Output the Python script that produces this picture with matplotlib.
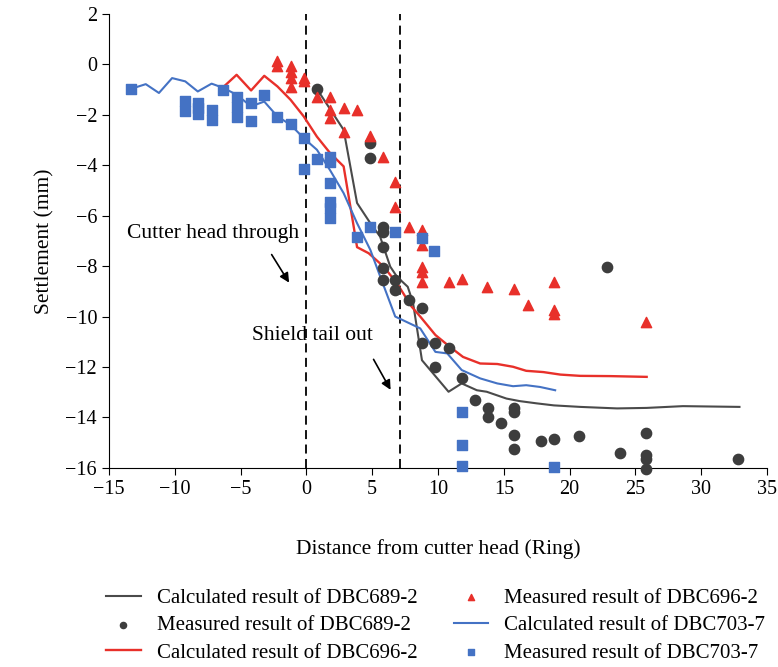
import matplotlib
matplotlib.use("Agg")
import matplotlib.pyplot as plt

plt.rcParams['font.family'] = ['Liberation Serif', 'DejaVu Serif']

# Calculated DBC689-2 (black line)
calc689_x = [0.8, 2.83, 3.85, 4.86, 5.6, 6.37, 6.88, 7.7, 8.1, 8.78, 10.8, 11.8, 12.95, 13.7, 15.2, 16.2, 17.5, 18.8, 20.8, 23.6, 25.85, 28.6, 32.9]
calc689_y = [-0.98, -2.6, -5.5, -6.3, -6.83, -8.02, -8.42, -8.82, -9.45, -11.73, -12.98, -12.65, -12.92, -12.98, -13.25, -13.35, -13.44, -13.52, -13.58, -13.64, -13.62, -13.55, -13.58]

# Measured DBC689-2 (black circles)
meas689_x = [0.8, 4.8, 4.8, 5.8, 5.8, 5.8, 5.8, 5.8, 6.75, 6.75, 7.76, 8.78, 8.78, 9.8, 9.8, 10.8, 11.8, 12.8, 13.8, 13.8, 14.8, 15.8, 15.8, 15.8, 15.8, 17.8, 18.8, 20.7, 22.8, 23.8, 25.8, 25.8, 25.8, 25.8, 32.8]
meas689_y = [-0.98, -3.13, -3.72, -6.44, -6.63, -7.23, -8.09, -8.55, -8.55, -8.95, -9.35, -9.68, -11.06, -11.06, -11.99, -11.26, -12.45, -13.29, -13.62, -13.98, -14.21, -13.64, -13.8, -14.7, -15.23, -14.93, -14.86, -14.74, -8.02, -15.39, -14.6, -15.47, -15.63, -16.06, -15.65]

# Calculated DBC696-2 (red line)
calc696_x = [-6.3, -5.3, -4.2, -3.2, -2.2, -1.2, -0.2, 0.8, 1.8, 2.83, 3.47, 3.85, 4.73, 5.87, 6.88, 8.0, 8.65, 9.8, 10.9, 11.9, 13.2, 14.5, 15.7, 16.7, 18.0, 19.3, 20.8, 23.1, 25.85]
calc696_y = [-0.9, -0.42, -1.04, -0.46, -0.88, -1.41, -2.07, -2.87, -3.52, -4.05, -6.04, -7.25, -7.49, -8.02, -8.68, -9.61, -10.0, -10.73, -11.2, -11.6, -11.86, -11.88, -11.99, -12.15, -12.2, -12.3, -12.35, -12.36, -12.39]

# Measured DBC696-2 (red triangles)
meas696_x = [-2.2, -2.2, -1.2, -1.2, -1.2, -1.2, -0.2, -0.2, 0.8, 1.8, 1.8, 1.8, 2.83, 2.83, 3.85, 4.8, 5.82, 6.75, 6.75, 7.76, 8.78, 8.78, 8.78, 8.78, 8.78, 10.8, 11.8, 13.75, 15.8, 16.8, 18.8, 18.8, 18.8, 25.8]
meas696_y = [0.11, -0.09, -0.09, -0.3, -0.55, -0.9, -0.55, -0.68, -1.28, -1.28, -1.8, -2.13, -1.74, -2.67, -1.8, -2.86, -3.66, -4.65, -5.64, -6.44, -6.57, -7.16, -8.05, -8.22, -8.62, -8.62, -8.52, -8.84, -8.92, -9.54, -8.62, -9.74, -9.9, -10.2]

# Calculated DBC703-7 (blue line)
calc703_x = [-13.35, -12.2, -11.2, -10.2, -9.2, -8.25, -7.2, -6.3, -5.3, -4.2, -3.2, -2.2, -1.2, -0.2, 0.8, 1.8, 2.83, 3.85, 4.86, 5.6, 6.75, 8.65, 9.8, 10.7, 11.8, 13.2, 14.5, 15.7, 16.7, 17.75, 18.9]
calc703_y = [-0.98, -0.79, -1.14, -0.55, -0.68, -1.08, -0.77, -0.94, -1.21, -1.67, -1.48, -2.07, -2.4, -2.93, -3.39, -4.2, -5.11, -6.3, -7.36, -8.4, -10.0, -10.47, -11.4, -11.46, -12.12, -12.45, -12.65, -12.76, -12.72, -12.79, -12.92]

# Measured DBC703-7 (blue squares)
meas703_x = [-13.3, -9.2, -9.2, -8.25, -8.25, -8.25, -7.2, -7.2, -6.3, -5.3, -5.3, -5.3, -4.2, -4.2, -3.2, -2.2, -1.2, -0.2, -0.2, 0.8, 1.8, 1.8, 1.8, 1.8, 1.8, 1.8, 3.85, 4.8, 6.75, 8.78, 9.73, 11.8, 11.8, 11.8, 18.8]
meas703_y = [-0.98, -1.45, -1.85, -1.52, -1.74, -1.98, -1.8, -2.23, -1.01, -1.28, -1.7, -2.1, -1.52, -2.27, -1.21, -2.1, -2.36, -2.93, -4.16, -3.76, -3.66, -3.86, -4.7, -5.47, -5.68, -6.1, -6.83, -6.44, -6.66, -6.88, -7.4, -13.78, -15.1, -15.92, -15.96]

xticks = [-15, -10, -5, 0, 5, 10, 15, 20, 25, 30, 35]
yticks = [2, 0, -2, -4, -6, -8, -10, -12, -14, -16]
vlines_x = [0, 7.1]

c_black = '#3d3d3d'
c_red = '#e8302a'
c_blue = '#4472c4'

fig = plt.figure(figsize=(7.78, 6.67), dpi=100)
ax = fig.add_axes([0.140, 0.2984, 0.846, 0.681])

l1, = ax.plot(calc689_x, calc689_y, color='#4a4a4a', lw=1.5, label='Calculated result of DBC689-2')
l3, = ax.plot(calc696_x, calc696_y, color=c_red, lw=1.7, label='Calculated result of DBC696-2')
l5, = ax.plot(calc703_x, calc703_y, color=c_blue, lw=1.5, label='Calculated result of DBC703-7')
s2 = ax.scatter(meas689_x, meas689_y, s=55, color=c_black, marker='o', zorder=3, clip_on=False, label='Measured result of DBC689-2')
s4 = ax.scatter(meas696_x, meas696_y, s=55, color=c_red, marker='^', zorder=3, clip_on=False, label='Measured result of DBC696-2')
s6 = ax.scatter(meas703_x, meas703_y, s=45, color=c_blue, marker='s', zorder=3, clip_on=False, label='Measured result of DBC703-7')

for vx in vlines_x:
    ax.axvline(vx, color='black', ls=(0, (5, 3)), lw=1.3, zorder=1)

ax.annotate('', xy=(-1.2, -8.75), xytext=(-2.75, -7.45),
            arrowprops=dict(arrowstyle='-|>', color='black', lw=1.2, mutation_scale=14))
ax.text(-13.6, -6.69, 'Cutter head through', fontsize=15.5, va='center', ha='left')
ax.annotate('', xy=(6.5, -13.0), xytext=(5.0, -11.6),
            arrowprops=dict(arrowstyle='-|>', color='black', lw=1.2, mutation_scale=14))
ax.text(-4.1, -10.77, 'Shield tail out', fontsize=15.5, va='center', ha='left')

ax.set_xlim(-15, 35)
ax.set_ylim(-16, 2)
ax.set_xticks(xticks)
ax.set_yticks(yticks)
ax.tick_params(direction='out', length=5, labelsize=14.5)
for sp in ['top', 'right']:
    ax.spines[sp].set_visible(False)
ax.set_xlabel('Distance from cutter head (Ring)', fontsize=15.5, labelpad=29)
ax.set_ylabel('Settlement (mm)', fontsize=15.5, labelpad=8)

handles = [l1, s2, l3, s4, l5, s6]
leg = fig.legend(handles=handles, labels=[h.get_label() for h in handles],
                 loc='upper left', bbox_to_anchor=(0.1255, 0.1304), ncol=2,
                 frameon=False, fontsize=15.0, handlelength=1.67, handletextpad=0.76,
                 columnspacing=1.75, labelspacing=0.37, markerscale=0.6,
                 borderaxespad=0)
fig.savefig('out.png', dpi=100)
